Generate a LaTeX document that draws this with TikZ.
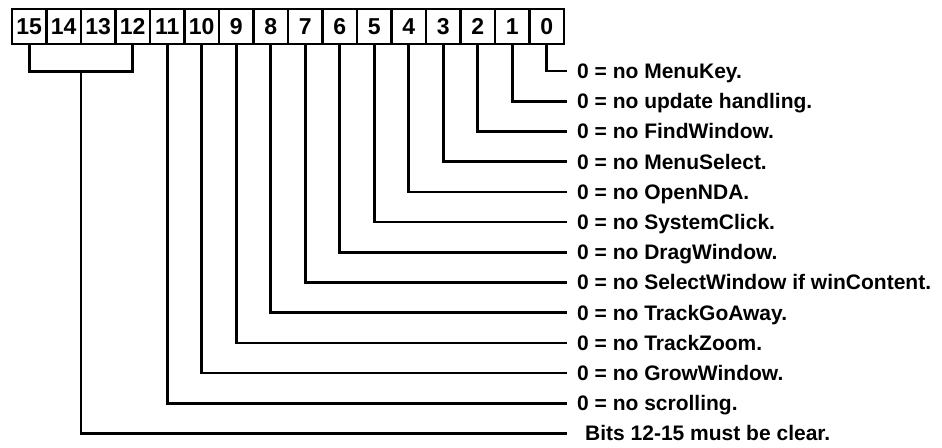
\documentclass[tikz,border=0pt]{standalone}
\usepackage{fontspec}
\setmainfont{Liberation Sans}
\usepackage{tikz}
\usetikzlibrary{calc}

\begin{document}
\begin{tikzpicture}[x=1pt,y=-1pt,
          bitbox/.style={draw,line width=2.4pt,minimum width=34.5pt,
            minimum height=35pt,inner sep=0pt,
            font=\bfseries\fontsize{23}{23}\selectfont},
          lbl/.style={anchor=west,inner xsep=10pt,inner ysep=0pt,
            text height=15pt,text depth=0pt,
            font=\bfseries\fontsize{21}{21}\selectfont},
          ln/.style={line width=2.6pt}]
        \useasboundingbox (0,0) rectangle (942,447);
        \foreach \b in {0,...,15}
          \node[bitbox] (b\b) at ({12+34.5*(15-\b)+17.25},26.5) {\b};
        \foreach \b/\txt in {0/no MenuKey., 1/no update handling.,
            2/no FindWindow., 3/no MenuSelect., 4/no OpenNDA.,
            5/no SystemClick., 6/no DragWindow.,
            7/no SelectWindow if winContent., 8/no TrackGoAway.,
            9/no TrackZoom., 10/no GrowWindow., 11/no scrolling.}
          \node[lbl] (l\b) at (567,{71+30.2*\b}) {0 = \txt};
        \node[lbl,inner xsep=18pt] (lbits) at (567,{71+30.2*12})
          {Bits 12-15 must be clear.};
        \foreach \b in {0,...,11}
          \draw[ln] (b\b.south) |- (l\b.west);
        \coordinate (brk) at ($(b15.south)!0.5!(b12.south)+(0,26)$);
        \draw[ln] (b15.south) |- (brk) -| (b12.south);
        \draw[ln] (brk) |- (lbits.west);
      \end{tikzpicture}
\end{document}
